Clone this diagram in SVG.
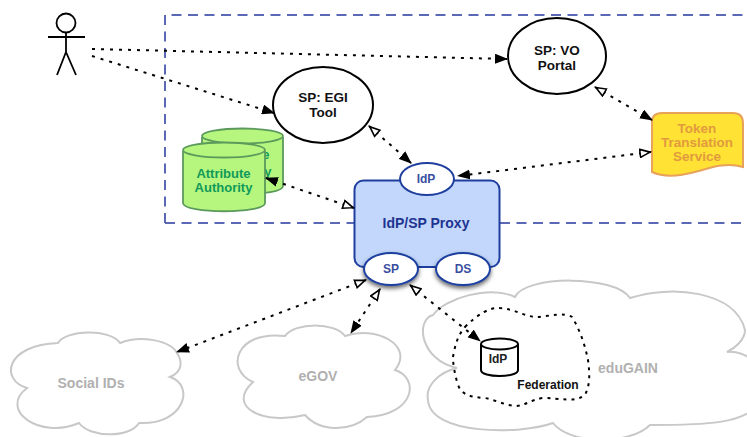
<svg xmlns="http://www.w3.org/2000/svg" width="747" height="437" viewBox="0 0 747 437">
<style>
text{font-family:"Liberation Sans",Arial,sans-serif;font-weight:bold;font-size:13.500px;text-anchor:middle}
.cloud{fill:#fff;stroke:#c8c8c8;stroke-width:2}
.cloudt{fill:#b0b0b0;font-size:14px}
.db{fill:#b6f57e;stroke:#5c9a5c;stroke-width:1.8}
.dbt{fill:#0f9a5a;font-size:13px}
.sp{fill:#fff;stroke:#000;stroke-width:2}
.port{fill:#fff;stroke:#1f3f9f;stroke-width:2}
.portt{fill:#3a4f9f;font-size:12px}
.c{fill:none;stroke:#000;stroke-width:2;stroke-dasharray:3 6}
.both{marker-start:url(#open);marker-end:url(#solid)}
</style>
<defs>
<marker id="solid" viewBox="0 0 13 10" refX="12" refY="5" markerWidth="13" markerHeight="10" markerUnits="userSpaceOnUse" orient="auto"><path d="M0,0L13,5L0,10z" fill="#000"/></marker>
<marker id="open" viewBox="0 0 13 10" refX="12" refY="5" markerWidth="13" markerHeight="10" markerUnits="userSpaceOnUse" orient="auto-start-reverse"><path d="M1,1L11,5L1,9z" fill="#fff" stroke="#000" stroke-width="1.6"/></marker>
<filter id="sh" x="-30%" y="-30%" width="160%" height="170%"><feDropShadow dx="0" dy="2.500" stdDeviation="2" flood-color="#000" flood-opacity=".6"/></filter>
</defs>
<rect width="747" height="437" fill="#fff"/>
<path d="M165,223V15H747" fill="none" stroke="#5a68b5" stroke-width="2" stroke-dasharray="10 6.500"/>
<path d="M500,223H747M165,223H354" fill="none" stroke="#5a68b5" stroke-width="2" stroke-dasharray="10 6.500"/>
<g id="user" fill="none" stroke="#000" stroke-width="1.800"><circle cx="66" cy="23" r="9.500"/><path d="M66,33V52M48,37H85M66,52L57,75M66,52L76,75"/></g>
<g id="social-ids"><path class="cloud" d="M58,343C65,330 110,328 120,343C140,335 170,340 177,353C183,362 182,372 170,377C195,385 185,425 139,423C130,438 90,438 79,423C40,440 -2,410 27,388C0,380 5,345 58,343z"/><text class="cloudt" x="91" y="388">Social IDs</text></g>
<g id="egov"><path class="cloud" d="M285,336C295,322 335,322 345,336C375,325 415,345 395,370C420,378 415,415 367,417C350,432 320,432 305,415C265,425 225,408 253,382C225,370 235,330 285,336z"/><text class="cloudt" x="318" y="381">eGOV</text></g>
<g id="edugain"><path class="cloud" d="M515,297C525,275 615,275 630,298C670,285 735,290 745,330C745,340 735,348 727,352C745,350 770,365 760,400C750,425 700,425 650,425C630,445 570,445 553,423C520,435 430,435 428,400C425,385 440,372 457,368C420,360 415,320 433,315C445,298 490,285 515,297z"/><text class="cloudt" x="628" y="373">eduGAIN</text></g>
<g id="federation"><path fill="none" stroke="#000" stroke-width="2" stroke-dasharray="3 5" d="M465,327C478,314 490,307 500,308C515,309 525,317 537,317C550,316 565,312 572,317C580,330 585,345 588,360C590,375 590,385 585,395C575,403 560,398 543,398C530,400 525,406 515,406C505,405 495,400 485,398C470,397 462,395 458,385C455,375 453,365 453,357C455,345 458,335 465,327z"/><text fill="#111" x="548" y="389" style="font-size:12px">Federation</text></g>
<g id="idp-db"><path fill="#fff" stroke="#000" stroke-width="2" d="M481,344V370C481,378 518,378 518,370V344"/><ellipse cx="499.500" cy="344" rx="18.500" ry="5.500" fill="#fff" stroke="#000" stroke-width="2"/><text fill="#222" x="498" y="363" style="font-size:12px">IdP</text></g>
<g id="aa-back"><path class="db" d="M202,137V186C202,197 283,197 283,186V137"/><ellipse class="db" cx="242.500" cy="136" rx="40.500" ry="7.500"/><text class="dbt" x="242.500" y="159">Attribute</text><text class="dbt" x="242.500" y="176">Authority</text></g>
<g id="aa-front"><path class="db" d="M183,151V203C183,214 265,214 265,203V151"/><ellipse class="db" cx="224" cy="150" rx="41" ry="7.500"/><text class="dbt" x="223.500" y="178">Attribute</text><text class="dbt" x="223.500" y="192">Authority</text></g>
<g id="sp-egi"><ellipse class="sp" cx="323" cy="105" rx="50" ry="38"/><text fill="#111" x="323" y="102">SP: EGI</text><text fill="#111" x="323" y="117">Tool</text></g>
<g id="sp-vo"><ellipse class="sp" cx="557" cy="56" rx="49" ry="38"/><text fill="#111" x="557" y="55">SP: VO</text><text fill="#111" x="557" y="70">Portal</text></g>
<g id="token"><path fill="#ffe233" stroke="#e8a25a" stroke-width="2" d="M652,122Q652,113 662,113H733Q743,113 743,123V167C725,162 710,168 695,172C680,176 665,178 652,172z"/><text fill="#e29a3f" x="697" y="133">Token</text><text fill="#e29a3f" x="697" y="147">Translation</text><text fill="#e29a3f" x="697" y="161">Service</text></g>
<g id="proxy"><rect x="354.500" y="180.500" width="145" height="86.500" rx="9" fill="#c2d7fb" stroke="#1f3f9f" stroke-width="2"/><text fill="#1f3390" x="426" y="228" style="font-size:14px">IdP/SP Proxy</text></g>
<g id="proxy-idp"><ellipse class="port" cx="427" cy="179" rx="27" ry="16"/><text class="portt" x="426" y="183">IdP</text></g>
<g id="proxy-sp"><ellipse class="port" cx="391" cy="269" rx="27" ry="16" filter="url(#sh)"/><text class="portt" x="391" y="273">SP</text></g>
<g id="proxy-ds"><ellipse class="port" cx="463" cy="269" rx="27" ry="16" filter="url(#sh)"/><text class="portt" x="463" y="273">DS</text></g>
<g id="connectors">
<path class="c" marker-end="url(#solid)" d="M92,49L507,59"/>
<path class="c" marker-end="url(#solid)" d="M92,56L274,113"/>
<path class="c both" d="M369,126L411,163"/>
<path class="c both" d="M595,87L652,120"/>
<path class="c both" d="M651,152L458,176"/>
<path class="c both" d="M354,208L266,178"/>
<path class="c both" d="M366,280L177,352"/>
<path class="c both" d="M380,289L351,333"/>
<path class="c both" d="M410,285L480,341"/>
</g>
</svg>
